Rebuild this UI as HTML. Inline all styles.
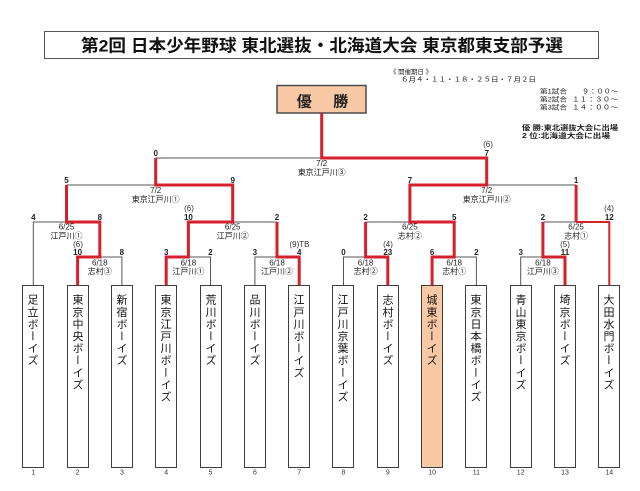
<!DOCTYPE html>
<html><head><meta charset="utf-8">
<style>
html,body{margin:0;padding:0;background:#fff;}
body{width:640px;height:491px;position:relative;overflow:hidden;font-family:"Liberation Sans","Noto Sans CJK JP",sans-serif;}
svg{position:absolute;left:0;top:0;}
.tm{position:absolute;top:285px;width:22px;height:183px;border:1px solid #3c3c3c;box-sizing:border-box;background:#fff;}
.tm span{position:absolute;left:0;top:8px;width:20px;writing-mode:vertical-rl;font-size:11px;line-height:20px;letter-spacing:1.1px;color:#111;font-family:"Noto Sans CJK JP",sans-serif;}
.win{background:#f9c9a5;}
</style></head><body>
<svg width="640" height="491" viewBox="0 0 640 491" xmlns="http://www.w3.org/2000/svg" font-family="Liberation Sans, Noto Sans CJK JP, sans-serif">
<!-- title -->
<rect x="44.5" y="31.5" width="554" height="27" fill="#fff" stroke="#555" stroke-width="1"/>
<text x="322" y="51.5" font-size="17" font-weight="bold" text-anchor="middle" fill="#111" textLength="482" lengthAdjust="spacingAndGlyphs">第2回 日本少年野球 東北選抜・北海道大会 東京都東支部予選</text>

<!-- header notes -->
<text x="390" y="74" font-size="6.5" fill="#222" textLength="42" lengthAdjust="spacingAndGlyphs">《 開催期日 》</text>
<text x="401" y="81.3" font-size="6.5" fill="#222" textLength="135" lengthAdjust="spacingAndGlyphs">６月４・１１・１８・２５日・７月２日</text>
<text x="540" y="93.3" font-size="6.5" fill="#222" textLength="27" lengthAdjust="spacingAndGlyphs">第1試合</text>
<text x="618" y="93.3" font-size="6.5" fill="#222" text-anchor="end" textLength="36" lengthAdjust="spacingAndGlyphs">９：００～</text>
<text x="540" y="101.3" font-size="6.5" fill="#222" textLength="27" lengthAdjust="spacingAndGlyphs">第2試合</text>
<text x="618" y="101.3" font-size="6.5" fill="#222" text-anchor="end" textLength="46" lengthAdjust="spacingAndGlyphs">１１：３０～</text>
<text x="540" y="109.6" font-size="6.5" fill="#222" textLength="27" lengthAdjust="spacingAndGlyphs">第3試合</text>
<text x="618" y="109.6" font-size="6.5" fill="#222" text-anchor="end" textLength="46" lengthAdjust="spacingAndGlyphs">１４：００～</text>
<text x="522" y="130.2" font-size="7" font-weight="bold" fill="#222" textLength="96" lengthAdjust="spacingAndGlyphs">優 勝:東北選抜大会に出場</text>
<text x="522" y="137.9" font-size="7" font-weight="bold" fill="#222" textLength="88" lengthAdjust="spacingAndGlyphs">2 位:北海道大会に出場</text>

<!-- champion box -->
<rect x="277" y="85.5" width="89" height="27.5" fill="#f9c9a5" stroke="#4a4a4a" stroke-width="1.5"/>
<text x="304.3" y="106.3" font-size="15" font-weight="bold" text-anchor="middle" fill="#222">優</text>
<text x="340.7" y="106.3" font-size="15" font-weight="bold" text-anchor="middle" fill="#222">勝</text>

<!-- grey lines -->
<g fill="none" stroke="#555" stroke-width="1">
<polyline points="155.7,158 321.7,158"/>
<polyline points="66.5,185 155.7,185"/>
<polyline points="486.7,185 576.1,185"/>
<polyline points="33.3,285 33.3,222 66.5,222"/>
<polyline points="232.7,222 277,222"/>
<polyline points="365.6,222 409.9,222"/>
<polyline points="542.9,222 576.1,222"/>
<polyline points="99.8,257 121.9,257 121.9,285"/>
<polyline points="188.4,257 210.5,257 210.5,285"/>
<polyline points="254.9,285 254.9,257 277,257"/>
<polyline points="343.5,285 343.5,257 365.6,257"/>
<polyline points="454.2,257 476.4,257 476.4,285"/>
<polyline points="520.7,285 520.7,257 542.9,257"/>
</g>

<!-- red lines -->
<g fill="none" stroke="#d5212b" stroke-width="3" stroke-linejoin="miter">
<polyline points="321.7,113 321.7,158 486.7,158 486.7,185 409.9,185 409.9,222 454.2,222 454.2,257 432.1,257 432.1,285"/>
<polyline points="155.7,158 155.7,185 232.7,185 232.7,222 188.4,222 188.4,257 166.2,257 166.2,285"/>
<polyline points="66.5,185 66.5,222 99.8,222 99.8,257 77.6,257 77.6,285"/>
<polyline points="277,222 277,257 299.2,257 299.2,285"/>
<polyline points="365.6,222 365.6,257 387.8,257 387.8,285"/>
<polyline points="576.1,185 576.1,222"/>
<polyline points="542.9,222 542.9,257 565,257 565,285"/>
</g>
<polyline points="576.1,222 609.3,222 609.3,285" fill="none" stroke="#d5212b" stroke-width="2"/>

<!-- scores -->
<g font-size="8" font-weight="bold" text-anchor="middle" fill="#222">
<text x="155.7" y="156">0</text>
<text x="486.7" y="156">7</text>
<text x="66.5" y="183">5</text>
<text x="232.7" y="183">9</text>
<text x="409.9" y="183">7</text>
<text x="576.1" y="183">1</text>
<text x="33.3" y="220">4</text>
<text x="99.8" y="220">8</text>
<text x="188.4" y="220">10</text>
<text x="277" y="220">2</text>
<text x="365.6" y="220">2</text>
<text x="454.2" y="220">5</text>
<text x="542.9" y="220">2</text>
<text x="609.3" y="220">12</text>
<text x="77.6" y="255">10</text>
<text x="121.9" y="255">8</text>
<text x="166.2" y="255">3</text>
<text x="210.5" y="255">2</text>
<text x="254.9" y="255">3</text>
<text x="299.2" y="255">4</text>
<text x="343.5" y="255">0</text>
<text x="387.8" y="255">23</text>
<text x="432.1" y="255">6</text>
<text x="476.4" y="255">2</text>
<text x="520.7" y="255">3</text>
<text x="565" y="255">11</text>
</g>

<!-- innings notes -->
<g font-size="8" text-anchor="middle" fill="#333">
<text x="488" y="147">(6)</text>
<text x="189" y="211">(6)</text>
<text x="609" y="211">(4)</text>
<text x="78" y="247">(6)</text>
<text x="299.5" y="247">(9)TB</text>
<text x="388" y="247">(4)</text>
<text x="565" y="247">(5)</text>
</g>

<!-- match labels -->
<g font-size="8" text-anchor="middle" fill="#222">
<text x="321.7" y="166">7/2</text>
<text x="321.7" y="175">東京江戸川③</text>
<text x="155.7" y="193">7/2</text>
<text x="155.7" y="202">東京江戸川①</text>
<text x="486.7" y="193">7/2</text>
<text x="486.7" y="202">東京江戸川②</text>
<text x="66.5" y="229.5">6/25</text>
<text x="66.5" y="238.7">江戸川①</text>
<text x="232.7" y="229.5">6/25</text>
<text x="232.7" y="238.7">江戸川②</text>
<text x="409.9" y="229.5">6/25</text>
<text x="409.9" y="238.7">志村②</text>
<text x="576.1" y="229.5">6/25</text>
<text x="576.1" y="238.7">志村①</text>
<text x="99.8" y="265.5">6/18</text>
<text x="99.8" y="274">志村③</text>
<text x="188.4" y="265.5">6/18</text>
<text x="188.4" y="274">江戸川①</text>
<text x="277" y="265.5">6/18</text>
<text x="277" y="274">江戸川②</text>
<text x="365.6" y="265.5">6/18</text>
<text x="365.6" y="274">志村②</text>
<text x="454.2" y="265.5">6/18</text>
<text x="454.2" y="274">志村①</text>
<text x="542.9" y="265.5">6/18</text>
<text x="542.9" y="274">江戸川③</text>
</g>

<!-- numbers under boxes -->
<g font-size="7" text-anchor="middle" fill="#333">
<text x="33.3" y="474.5">1</text>
<text x="77.6" y="474.5">2</text>
<text x="121.9" y="474.5">3</text>
<text x="166.2" y="474.5">4</text>
<text x="210.5" y="474.5">5</text>
<text x="254.9" y="474.5">6</text>
<text x="299.2" y="474.5">7</text>
<text x="343.5" y="474.5">8</text>
<text x="387.8" y="474.5">9</text>
<text x="432.1" y="474.5">10</text>
<text x="476.4" y="474.5">11</text>
<text x="520.7" y="474.5">12</text>
<text x="565" y="474.5">13</text>
<text x="609.3" y="474.5">14</text>
</g>
</svg>

<div class="tm" style="left:22px"><span>足立ボーイズ</span></div>
<div class="tm" style="left:67px"><span>東京中央ボーイズ</span></div>
<div class="tm" style="left:111px"><span>新宿ボーイズ</span></div>
<div class="tm" style="left:155px"><span>東京江戸川ボーイズ</span></div>
<div class="tm" style="left:200px"><span>荒川ボーイズ</span></div>
<div class="tm" style="left:244px"><span>品川ボーイズ</span></div>
<div class="tm" style="left:288px"><span>江戸川ボーイズ</span></div>
<div class="tm" style="left:332px"><span>江戸川京葉ボーイズ</span></div>
<div class="tm" style="left:377px"><span>志村ボーイズ</span></div>
<div class="tm win" style="left:421px"><span>城東ボーイズ</span></div>
<div class="tm" style="left:465px"><span>東京日本橋ボーイズ</span></div>
<div class="tm" style="left:510px"><span>青山東京ボーイズ</span></div>
<div class="tm" style="left:554px"><span>埼京ボーイズ</span></div>
<div class="tm" style="left:598px"><span>大田水門ボーイズ</span></div>
</body></html>
